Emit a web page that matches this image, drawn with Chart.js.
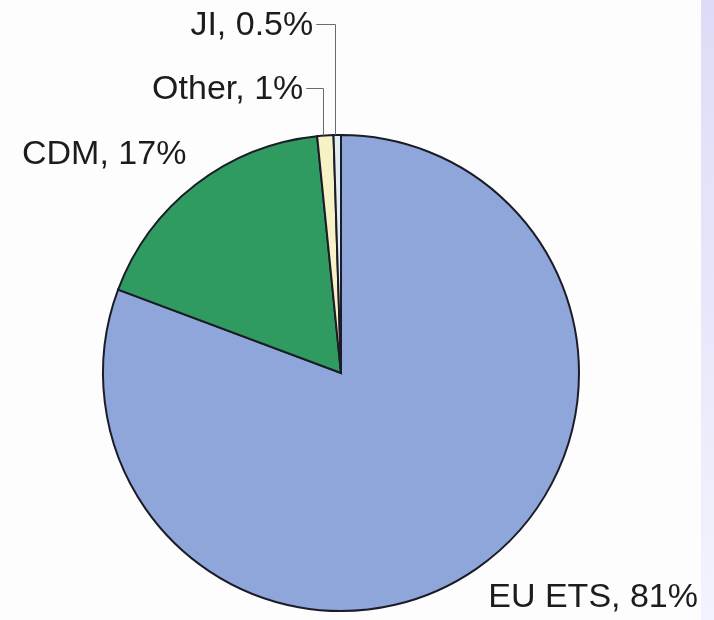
<!DOCTYPE html>
<html>
<head>
<meta charset="utf-8">
<script src="https://cdn.jsdelivr.net/npm/chart.js@4"></script>
<style>
    html, body { margin: 0; padding: 0; background: #fdfdfd; }
    #wrap { position: relative; width: 714px; height: 620px; overflow: hidden; }
    #strip {
        position: absolute; left: 701px; top: 0; width: 13px; height: 620px;
        background: linear-gradient(#dcdcf8, #f3f3fd);
    }
    canvas { position: absolute; left: 0; top: 0; }
</style>
</head>
<body>
<div id="wrap">
    <div id="strip"></div>
    <canvas id="pieChart" width="714" height="620"></canvas>
</div>
<script>

/* ===============================
   DATA
=============================== */

const categories = ["EU ETS", "CDM", "Other", "JI"];
const shares = [80.7, 17.7, 1.1, 0.5];
const shareLabels = ["81%", "17%", "1%", "0.5%"];
const sliceColors = ["#8ea6da", "#2f9b60", "#f7f2c6", "#e2eef6"];


/* ===============================
   LABEL PLUGIN
   text + elbow leader lines
=============================== */

const labelFont = "34px 'Liberation Sans', Arial, sans-serif";

const pieLabels = {
    id: "pieLabels",
    afterDatasetsDraw(chart) {
        const ctx = chart.ctx;
        const arcs = chart.getDatasetMeta(0).data;

        ctx.save();
        ctx.font = labelFont;
        ctx.fillStyle = "#1c1c1c";
        ctx.textBaseline = "alphabetic";

        arcs.forEach((arc, i) => {
            const { x: cx, y: cy, outerRadius: r, startAngle, endAngle } = arc.getProps(
                ["x", "y", "outerRadius", "startAngle", "endAngle"], true);
            const mid = (startAngle + endAngle) / 2;
            const text = categories[i] + ", " + shareLabels[i];

            if (i === 0) {
                // bottom right, below the pie
                ctx.textAlign = "right";
                ctx.fillText(text, cx + 357, cy + 234);
            } else if (i === 1) {
                // upper left
                ctx.textAlign = "left";
                ctx.fillText(text, cx - 319, cy - 209);
            } else {
                // small slices: elbow leader from the top edge
                const ex = cx + Math.cos(mid) * r - 2;
                const ey = cy + Math.sin(mid) * r;
                const ly = i === 2 ? cy - 285 : cy - 349;
                const tx = ex - (i === 2 ? 17 : 19);

                ctx.strokeStyle = "#6a6a6a";
                ctx.lineWidth = 1;
                ctx.beginPath();
                ctx.moveTo(tx, ly + 0.5);
                ctx.lineTo(Math.round(ex) + 0.5, ly + 0.5);
                ctx.lineTo(Math.round(ex) + 0.5, ey);
                ctx.stroke();

                ctx.textAlign = "right";
                ctx.fillText(text, tx - 3, ly + 11);
            }
        });

        ctx.restore();
    }
};


/* ===============================
   CREATE CHART
=============================== */

const ctx = document.getElementById("pieChart").getContext("2d");

const pieChart = new Chart(ctx, {

    type: "pie",

    data: {
        labels: categories,
        datasets: [
            {
                data: shares,
                backgroundColor: sliceColors,
                borderColor: "#1c1c28",
                borderWidth: 2,
                borderJoinStyle: "miter"
            }
        ]
    },

    options: {
        responsive: false,
        animation: false,

        layout: {
            padding: {
                left: 102,
                right: 134,
                top: 134,
                bottom: 8
            }
        },

        plugins: {
            legend: { display: false },
            tooltip: { enabled: false }
        }
    },

    plugins: [pieLabels]

});

</script>
</body>
</html>
